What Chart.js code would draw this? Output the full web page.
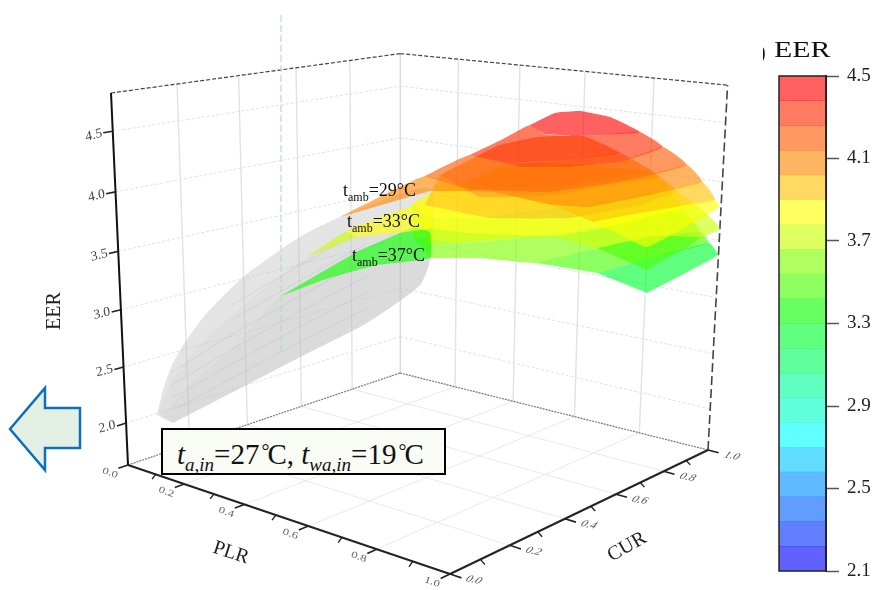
<!DOCTYPE html>
<html>
<head>
<meta charset="utf-8">
<style>
  body { margin: 0; background: #fff; overflow: hidden; font-family: "Liberation Serif", serif; color: #111; }
  canvas { position: absolute; }
  .lbl { position: absolute; font-size: 18px; line-height: 18px; white-space: nowrap; }
  .lbl sub { font-size: 12px; line-height: 0; }
  #note { position: absolute; left: 161px; top: 428px; width: 281px; height: 43px; border: 2px solid #000; background: #f9fcf5;
          font-size: 29px; line-height: 40px; white-space: nowrap; }
  #note span { position: absolute; left: 14px; top: 1px; }
  #note sub { font-size: 19px; line-height: 0; }
  #note u { text-decoration: none; font-size: 20px; vertical-align: 6px; margin: 0 -2px 0 2px; }
  #barTitle { position: absolute; left: 774px; top: 37px; font-size: 23px; line-height: 26px; transform: scaleX(1.3); transform-origin: left; }
  #cut { position: absolute; left: 763px; top: 41px; width: 3px; height: 22px; overflow: hidden; font-size: 20px; line-height: 22px; text-indent: -4px; }
</style>
</head>
<body>
<canvas id="graph" width="885" height="590" style="left:0;top:0"></canvas>
<canvas id="bar" width="125" height="530" style="left:760px;top:60px"></canvas>

<svg width="90" height="100" style="position:absolute;left:0;top:380px">
  <path d="M10 49 L45 8 L45 28 L80 28 L80 68 L45 68 L45 90 Z" fill="#e3f1e4" stroke="#0c70be" stroke-width="2.5"/>
</svg>
<div class="lbl" style="left:343px;top:181px">t<sub>amb</sub>=29°C</div>
<div class="lbl" style="left:347px;top:212px">t<sub>amb</sub>=33°C</div>
<div class="lbl" style="left:352px;top:246px">t<sub>amb</sub>=37°C</div>
<div id="note"><span><i>t<sub>a,in</sub></i>=27<u>°</u>C, <i>t<sub>wa,in</sub></i>=19<u>°</u>C</span></div>
<div id="cut">)</div>
<div id="barTitle">EER</div>

<script src="https://cdn.jsdelivr.net/npm/chart.js@4"></script>
<script>
// axis ticks
const plrTicks = [0, 0.2, 0.4, 0.6, 0.8, 1]
const curTicks = [0, 0.2, 0.4, 0.6, 0.8, 1]
const minorTicks = [0.1, 0.3, 0.5, 0.7, 0.9]
const eerTicks = [2, 2.5, 3, 3.5, 4, 4.5]
const eerMin = 1.62
const eerMax = 4.81

// colour bar
const barTicks = [2.1, 2.5, 2.9, 3.3, 3.7, 4.1, 4.5]
const barEdges = [4.5, 4.38, 4.26, 4.14, 4.02, 3.9, 3.78, 3.66, 3.54, 3.42, 3.3, 3.18, 3.06, 2.94, 2.82, 2.7, 2.58, 2.46, 2.34, 2.22, 2.1]
const barColors = ['255,0,0', '255,42,0', '255,90,0', '255,134,0', '255,194,0', '255,255,0', '200,255,0', '128,255,0', '72,255,0', '12,255,0',
  '0,255,48', '0,255,96', '0,255,152', '0,255,200', '0,255,255', '0,200,255', '0,144,255', '0,96,255', '0,48,255', '0,0,255']

// surface bands: [PLR, CUR, EER]
const s37_a = [[.444,.728,3.9],[.422,.896,3.94],[.479,.958,3.97],[.609,1.009,3.98],[.715,1.132,3.9],[.681,.961,3.9],[.649,.799,3.9],[.560,.691,3.9]]
const s37_b = [[.406,.574,3.78],[.395,.654,3.82],[.444,.728,3.9],[.560,.691,3.9],[.649,.799,3.9],[.681,.961,3.9],[.715,1.132,3.9],[.785,1.108,3.78],[.751,.946,3.78],[.705,.764,3.78],[.637,.555,3.78],[.538,.472,3.78]]
const s37_c = [[.406,.574,3.78],[.538,.472,3.78],[.637,.555,3.78],[.705,.764,3.78],[.751,.946,3.78],[.785,1.108,3.78],[.873,1.043,3.66],[.839,.861,3.66],[.795,.679,3.66],[.724,.508,3.66],[.669,.421,3.66],[.553,.405,3.66]]
const s37_d = [[.553,.405,3.66],[.669,.421,3.66],[.724,.508,3.66],[.795,.679,3.66],[.839,.861,3.66],[.873,1.043,3.66],[.943,1.006,3.54],[.882,.840,3.54],[.853,.677,3.54],[.838,.495,3.54],[.719,.442,3.55],[.641,.361,3.56]]
const s37_e = [[.838,.495,3.54],[.853,.677,3.54],[.882,.840,3.54],[.943,1.006,3.54],[.945,1.047,3.42],[.924,.820,3.42],[.915,.619,3.42]]
const s37_f = [[.915,.619,3.42],[.924,.820,3.42],[.945,1.047,3.42],[.997,1.002,3.37],[.999,.697,3.25]]
const s37_tip = [[.195,.335,3],[.263,.534,3.3],[.314,.686,3.45],[.417,.628,3.5],[.641,.361,3.56],[.470,.374,3.4],[.318,.353,3.2]]

const s33_a = [[.483,.718,4.14],[.463,.841,4.18],[.501,.943,4.22],[.580,1.029,4.22],[.718,.989,4.14],[.677,.826,4.14],[.598,.706,4.14]]
const s33_b = [[.483,.718,4.14],[.598,.706,4.14],[.677,.826,4.14],[.718,.989,4.14],[.869,.935,4.02],[.840,.811,4.02],[.810,.596,4.02],[.695,.469,4.02],[.454,.620,4.02]]
const s33_c = [[.454,.620,4.02],[.695,.469,4.02],[.810,.596,4.02],[.840,.811,4.02],[.869,.935,4.02],[.908,.951,3.9],[.927,.765,3.9],[.889,.544,3.9],[.755,.430,3.9],[.552,.448,3.9]]
const s33_d = [[.552,.448,3.9],[.755,.430,3.9],[.889,.544,3.9],[.927,.765,3.9],[.908,.951,3.9],[.935,.990,3.78],[.927,.685,3.78],[.886,.500,3.78],[.722,.401,3.78],[.612,.377,3.78]]
const s33_e = [[.612,.377,3.78],[.722,.401,3.78],[.886,.500,3.78],[.927,.685,3.78],[.935,.990,3.78],[.982,1.031,3.58],[.985,.938,3.55],[.926,.834,3.6],[.896,.643,3.6],[.804,.616,3.66],[.741,.549,3.66],[.669,.421,3.66],[.618,.378,3.66]]
const s33_f = [[.896,.643,3.6],[.926,.834,3.6],[.985,.938,3.55],[.984,.715,3.42]]
const s33_tip = [[.303,.448,3.55],[.321,.482,3.6],[.489,.517,3.85],[.621,.384,3.78],[.362,.425,3.55]]
const s33_tip2 = [[.207,.415,3.3],[.303,.448,3.55],[.362,.425,3.55]]

const s29_a = [[.544,.855,4.38],[.529,.977,4.43],[.590,.997,4.46],[.672,1.009,4.43],[.808,.935,4.38],[.766,.842,4.38],[.721,.785,4.38],[.653,.767,4.38]]
const s29_b = [[.577,.579,4.26],[.559,.728,4.32],[.544,.855,4.38],[.653,.767,4.38],[.721,.785,4.38],[.766,.842,4.38],[.808,.935,4.38],[.858,.960,4.26],[.895,.725,4.26],[.845,.600,4.26],[.760,.529,4.26]]
const s29_c = [[.552,.448,4.14],[.577,.579,4.26],[.760,.529,4.26],[.845,.600,4.26],[.895,.725,4.26],[.858,.960,4.26],[.932,.951,4.14],[.936,.706,4.14],[.882,.477,4.14],[.735,.383,4.14]]
const s29_d = [[.312,.421,3.7],[.552,.448,4.14],[.735,.383,4.14],[.882,.477,4.14],[.936,.706,4.14],[.932,.951,4.14],[.979,.944,4.02],[.972,.733,4.02],[.947,.535,4.02],[.873,.501,4.02],[.619,.614,3.95],[.453,.584,3.9]]
const s29_e = [[.873,.501,4.02],[.947,.535,4.02],[.972,.733,4.02],[.979,.944,4.02],[1.027,.925,3.9],[.977,.689,3.9],[.952,.542,3.9]]
const s29_f = [[.952,.542,3.9],[.977,.689,3.9],[1.027,.925,3.9],[1.000,.995,3.79],[.996,.693,3.63],[.948,.643,3.75]]

// grey part of the three surfaces
const gray1 = [[.010,.089,2],[-.104,.210,2.04],[-.208,.335,2.1],[-.275,.436,2.17],[-.341,.579,2.32],[-.369,.753,2.57],[-.321,.854,2.81],[-.275,.900,2.96],[-.135,.903,3.21],[.335,.726,3.8],[.817,.153,3.81],[.915,.002,3.74],[.785,-.011,3.39],[.553,.031,2.94],[.340,.031,2.5],[.155,.012,2.11]]
const gray2 = [[.007,.095,2.01],[-.109,.246,2.1],[-.161,.392,2.28],[-.139,.554,2.61],[-.052,.684,2.99],[.166,.641,3.32],[.606,.378,3.76],[.817,.153,3.81],[.915,.002,3.74],[.785,-.011,3.39],[.553,.031,2.94],[.340,.031,2.5],[.155,.012,2.11]]
const gray3 = [[.046,.067,2.02],[.038,.174,2.22],[.072,.296,2.51],[.056,.475,2.82],[.240,.436,3.1],[.510,.330,3.45],[.825,.140,3.8],[.915,.002,3.74],[.785,-.011,3.39],[.553,.031,2.94],[.340,.031,2.5],[.155,.012,2.11]]
const streak1 = [[.155,.012,2.22],[.340,.031,2.62],[.553,.031,3.06],[.785,-.011,3.5]]
const streak2 = [[.155,.012,2.33],[.340,.031,2.74],[.553,.031,3.18],[.785,-.011,3.62]]
const streak3 = [[.155,.012,2.44],[.340,.031,2.86],[.553,.031,3.3],[.785,-.011,3.74]]
const streak4 = [[.155,.012,2.55],[.340,.031,2.98],[.553,.031,3.42],[.785,-.011,3.86]]
const streak5 = [[.340,.031,3.1],[.553,.031,3.54],[.785,-.011,3.98]]
const streak6 = [[.340,.031,3.22],[.553,.031,3.66],[.785,-.011,4.1]]
const guide = [[.195,.332,2.5],[.195,.353,5.4]]

// [points, colour band]
const bands = [
  [s37_a, 4], [s37_b, 5], [s37_c, 6], [s37_d, 7], [s37_e, 8], [s37_f, 10],
  [s33_a, 2], [s33_b, 3], [s33_c, 4], [s33_d, 5], [s33_e, 6], [s33_f, 8],
  [s29_a, 0], [s29_b, 1], [s29_c, 2], [s29_d, 3], [s29_e, 4], [s29_f, 5],
  [s37_tip, 9], [s33_tip, 5], [s33_tip2, 6]
]

// perspective of the 3D box, unit cube -> page
function project(plr, cur, eer) {
  const z = (eer - eerMin) / (eerMax - eerMin)
  const w = -0.1512 * plr + 0.1721 * cur - 0.06 * z + 1
  return {
    x: (253.96 * plr + 340.84 * cur - 23.66 * z + 128) / w,
    y: (22.21 * plr - 27.81 * cur - 377.58 * z + 465) / w
  }
}

const datasets = []
function line(pts, color, width, dash) {
  datasets.push({
    data: pts.map(p => project(p[0], p[1], p[2])), showLine: true, pointRadius: 0,
    borderColor: color, borderWidth: width, borderDash: dash || []
  })
}
function shape(pts, color, tension) {
  datasets.push({
    data: pts.map(p => project(p[0], p[1], p[2])), showLine: true, pointRadius: 0,
    borderWidth: 0, tension: tension, shapeColor: color
  })
}

// walls and floor
eerTicks.forEach(e => {
  line([[0, 0, e], [0, 1, e]], '#e0e0e0', 1, [3, 2])
  line([[0, 1, e], [1, 1, e]], '#e0e0e0', 1, [3, 2])
})
plrTicks.slice(1, 5).forEach(u => {
  line([[u, 1, eerMin], [u, 1, eerMax]], '#e2e2e2', 1.4)
  line([[u, 0, eerMin], [u, 1, eerMin]], '#e9e9e9', 1)
})
curTicks.slice(1, 5).forEach(v => {
  line([[0, v, eerMin], [0, v, eerMax]], '#e2e2e2', 1.4)
  line([[0, v, eerMin], [1, v, eerMin]], '#e9e9e9', 1)
})
line([[0, 1, eerMin], [0, 1, eerMax]], '#dcdcdc', 1.6)
line([[0, 0, eerMin], [0, 1, eerMin]], '#777', 1.2, [2, 1])
line([[0, 1, eerMin], [1, 1, eerMin]], '#777', 1.2, [2, 1])
line([[0, 0, eerMax], [0, 1, eerMax]], '#444', 1.2, [4, 2])
line([[0, 1, eerMax], [1, 1, eerMax]], '#444', 1.2, [4, 2])
line([[1, 1, eerMin], [1, 1, eerMax]], '#444', 1.6, [9, 4])

shape(gray1, 'rgba(190,190,190,.42)', 0.2)
shape(gray2, 'rgba(190,190,190,.1)', 0.2)
shape(gray3, 'rgba(190,190,190,.1)', 0.2)
;[streak1, streak2, streak3, streak4, streak5, streak6].forEach(s => line(s, 'rgba(165,165,165,.22)', 1))
line(guide, '#b5e0b5', 1.2, [7, 3])
bands.forEach(b => shape(b[0], 'rgba(' + barColors[b[1]] + ',.62)', 0.12))

// axes
line([[0, 0, eerMin], [0, 0, eerMax]], '#111', 2)
line([[0, 0, eerMin], [1, 0, eerMin]], '#222', 2)
line([[1, 0, eerMin], [1, 1, eerMin]], '#222', 2)
eerTicks.forEach(e => line([[0, 0, e], [0, -0.028, e]], '#222', 1.6))
plrTicks.forEach(u => line([[u, 0, eerMin], [u, -0.03, eerMin]], '#222', 1.6))
curTicks.forEach(v => line([[1, v, eerMin], [1.03, v, eerMin]], '#222', 1.6))
minorTicks.forEach(t => {
  line([[t, 0, eerMin], [t, -0.012, eerMin - 0.03]], '#222', 1.4)
  line([[1, t, eerMin], [1.012, t, eerMin - 0.03]], '#222', 1.4)
})

// Chart.js paints the first dataset last
datasets.reverse()

const fillShapes = {
  id: 'fillShapes',
  afterDatasetDraw(chart, args) {
    const color = chart.data.datasets[args.index].shapeColor
    if (!color) return
    const ctx = chart.ctx
    const path = args.meta.dataset
    path.updateControlPoints(chart.chartArea, 'x')
    ctx.save()
    ctx.beginPath()
    path.path(ctx)
    ctx.closePath()
    ctx.fillStyle = color
    ctx.fill()
    ctx.restore()
  }
}

const axisText = {
  id: 'axisText',
  afterDraw(chart) {
    const ctx = chart.ctx
    const sx = chart.scales.x, sy = chart.scales.y
    const put = (text, p, dx, dy, m, font, color) => {
      ctx.save()
      ctx.translate(sx.getPixelForValue(p.x) + dx, sy.getPixelForValue(p.y) + dy)
      ctx.transform(m[0], m[1], m[2], m[3], 0, 0)
      ctx.font = font
      ctx.fillStyle = color
      ctx.textAlign = 'center'
      ctx.textBaseline = 'middle'
      ctx.fillText(text, 0, 0)
      ctx.restore()
    }
    const small = '12px "Liberation Serif"'
    plrTicks.forEach(u => put(u.toFixed(1), project(u, 0, eerMin), -18, 8, [1, .36, -.25, .75], small, '#666'))
    curTicks.forEach(v => put(v.toFixed(1), project(1, v, eerMin), 24, 6, [1, .18, -.6, .75], small, '#555'))
    eerTicks.forEach(e => put(e.toFixed(1), project(0, 0, e), -19, 4, [.95, -.25, .15, .95], '14px "Liberation Serif"', '#444'))
    const big = '20px "Liberation Serif"'
    put('PLR', { x: 231, y: 553 }, 0, 0, [.95, .31, -.31, .95], big, '#222')
    put('CUR', { x: 627, y: 547 }, 0, 0, [.87, -.5, .5, .87], big, '#222')
    put('EER', { x: 55, y: 311 }, 0, 0, [0, -1, 1, 0], big, '#222')
  }
}

new Chart(document.querySelector('#graph'), {
  type: 'scatter',
  data: { datasets: datasets },
  options: {
    responsive: false,
    animation: false,
    layout: { padding: 0 },
    plugins: { legend: { display: false }, tooltip: { enabled: false } },
    scales: {
      x: { type: 'linear', min: 0, max: 885, display: false },
      y: { type: 'linear', min: 0, max: 590, reverse: true, display: false }
    }
  },
  plugins: [fillShapes, axisText]
})

const barFrame = {
  id: 'barFrame',
  afterDraw(chart) {
    const { ctx, chartArea: a } = chart
    ctx.save()
    ctx.strokeStyle = '#222'
    ctx.lineWidth = 1.5
    ctx.strokeRect(a.left, a.top, a.right - a.left, a.bottom - a.top)
    ctx.restore()
  }
}

new Chart(document.querySelector('#bar'), {
  type: 'bar',
  data: {
    labels: ['EER'],
    datasets: barColors.map((c, i) => ({
      data: [[barEdges[i + 1], barEdges[i]]],
      backgroundColor: 'rgba(' + c + ',.62)',
      barPercentage: 1,
      categoryPercentage: 1
    }))
  },
  options: {
    responsive: false,
    animation: false,
    layout: { padding: { left: 19, top: 16, bottom: 19, right: 0 } },
    plugins: { legend: { display: false }, tooltip: { enabled: false } },
    scales: {
      x: { stacked: true, display: false },
      y: {
        position: 'right',
        min: 2.1,
        max: 4.5,
        afterFit: s => { s.width = 59; s.paddingTop = 0; s.paddingBottom = 0 },
        afterBuildTicks: s => { s.ticks = barTicks.map(v => ({ value: v })) },
        border: { color: '#222', width: 2 },
        grid: { drawOnChartArea: false, tickLength: 13, tickColor: '#555', tickWidth: 1.5 },
        ticks: {
          padding: 8,
          color: '#222',
          font: { family: 'Liberation Serif', size: 19 },
          callback: v => v.toFixed(1)
        }
      }
    }
  },
  plugins: [barFrame]
})
</script>
</body>
</html>
